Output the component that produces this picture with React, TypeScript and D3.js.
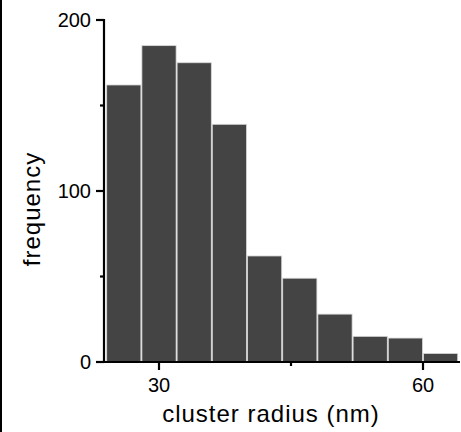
import React from "react";
import * as d3 from "d3";

const binStarts = [24, 28, 32, 36, 40, 44, 48, 52, 56, 60];
const binWidth = 4;
const counts = [162, 185, 175, 139, 62, 49, 28, 15, 14, 5];
const yTicks = [0, 100, 200];
const yMinorTicks = [50, 150];
const xTicks = [30, 60];
const xMinorTicks = [45];

const W = 461;
const H = 432;

export default function App() {
  const x = d3.scaleLinear().domain([30, 60]).range([159, 423]);
  const y = d3.scaleLinear().domain([0, 200]).range([362, 20]);
  const xLeft = 97;
  const xRight = 460;
  const axisX = 104;
  const font = "Liberation Sans, Arial, sans-serif";

  return (
    <svg
      width={W}
      height={H}
      style={{ position: "absolute", left: 0, top: 0, background: "#fff" }}
      fontFamily={font}
    >
      <rect x={0} y={0} width={2} height={H} fill="#000" />
      {binStarts.map((b, i) => (
        <rect
          key={b}
          x={x(b) + 0.5}
          y={y(counts[i])}
          width={x(b + binWidth) - x(b) - 1}
          height={y(0) - y(counts[i])}
          fill="#444444"
          stroke="#d8d8d8"
          strokeWidth={0.8}
        />
      ))}
      {/* y axis */}
      <line x1={axisX} x2={axisX} y1={y(200) - 1} y2={y(0) + 1} stroke="#000" strokeWidth={2.2} />
      {yTicks.map((t) => (
        <g key={t}>
          <line x1={axisX - 8} x2={axisX} y1={y(t)} y2={y(t)} stroke="#000" strokeWidth={2.2} />
          <text x={91} y={y(t)} dy="0.36em" textAnchor="end" fontSize={20} fill="#000">
            {t}
          </text>
        </g>
      ))}
      {yMinorTicks.map((t) => (
        <line key={t} x1={axisX - 4} x2={axisX} y1={y(t)} y2={y(t)} stroke="#000" strokeWidth={2.2} />
      ))}
      {/* x axis */}
      <line x1={xLeft} x2={xRight} y1={y(0)} y2={y(0)} stroke="#000" strokeWidth={2.2} />
      {xTicks.map((t) => (
        <g key={t}>
          <line x1={x(t)} x2={x(t)} y1={y(0)} y2={y(0) + 8} stroke="#000" strokeWidth={2.2} />
          <text x={x(t)} y={392} textAnchor="middle" fontSize={20} fill="#000">
            {t}
          </text>
        </g>
      ))}
      {xMinorTicks.map((t) => (
        <line key={t} x1={x(t)} x2={x(t)} y1={y(0)} y2={y(0) + 4} stroke="#000" strokeWidth={2.2} />
      ))}
      <text x={271} y={422} textAnchor="middle" fontSize={24} letterSpacing={1} fill="#000">
        cluster radius (nm)
      </text>
      <text
        transform="translate(40,209) rotate(-90)"
        textAnchor="middle"
        fontSize={24}
        letterSpacing={1}
        fill="#000"
      >
        frequency
      </text>
    </svg>
  );
}
